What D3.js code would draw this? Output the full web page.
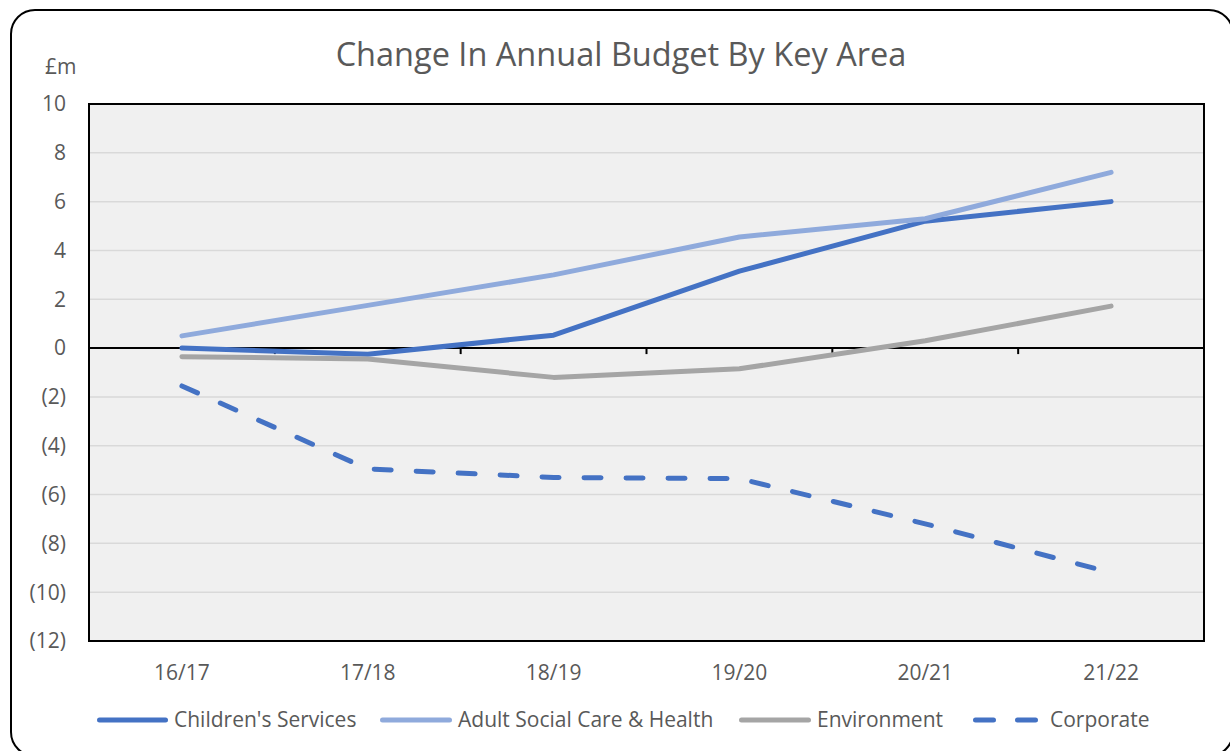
<!DOCTYPE html>
<html>
<head>
<meta charset="utf-8">
<script src="https://cdn.jsdelivr.net/npm/d3@7"></script>
<style>
  html, body { margin: 0; padding: 0; background: #fff; }
  svg { display: block; }
  text { font-family: "Open Sans", "Noto Sans", sans-serif; fill: #595959; }
</style>
</head>
<body>
<svg id="chart" width="1230" height="751"></svg>
<script>
const categories = ["16/17", "17/18", "18/19", "19/20", "20/21", "21/22"];
const childrens = [0.0, -0.25, 0.53, 3.15, 5.2, 6.0];
const adult = [0.5, 1.75, 3.0, 4.55, 5.3, 7.2];
const environment = [-0.35, -0.45, -1.2, -0.85, 0.3, 1.72];
const corporate = [-1.55, -4.95, -5.3, -5.35, -7.2, -9.2];
const yTicks = [10, 8, 6, 4, 2, 0, -2, -4, -6, -8, -10, -12];
const titleText = "Change In Annual Budget By Key Area";
const unitLabel = "£m";

const series = [
  { name: "Children's Services", values: childrens, color: "#4472C4", dash: null },
  { name: "Adult Social Care & Health", values: adult, color: "#8FAADC", dash: null },
  { name: "Environment", values: environment, color: "#A5A5A5", dash: null },
  { name: "Corporate", values: corporate, color: "#4472C4", dash: "17,25" }
];

const svg = d3.select("#chart");
const plot = { left: 89, top: 104, right: 1204, bottom: 641 };

// outer frame
svg.append("rect")
  .attr("x", 11).attr("y", 10).attr("width", 1222).attr("height", 746)
  .attr("rx", 24).attr("ry", 24)
  .attr("fill", "#fff").attr("stroke", "#000").attr("stroke-width", 2);

const x = d3.scaleBand().domain(categories).range([plot.left, plot.right]).padding(0);
const y = d3.scaleLinear().domain([-12, 10]).range([plot.bottom, plot.top]);

// plot background
svg.append("rect")
  .attr("x", plot.left).attr("y", plot.top)
  .attr("width", plot.right - plot.left).attr("height", plot.bottom - plot.top)
  .attr("fill", "#F0F0F0");

// gridlines
svg.append("g").selectAll("line").data(yTicks.filter(d => d !== 0 && d !== 10 && d !== -12)).join("line")
  .attr("x1", plot.left).attr("x2", plot.right)
  .attr("y1", d => y(d)).attr("y2", d => y(d))
  .attr("stroke", "#D9D9D9").attr("stroke-width", 1.5);

// plot border
svg.append("rect")
  .attr("x", plot.left).attr("y", plot.top)
  .attr("width", plot.right - plot.left).attr("height", plot.bottom - plot.top)
  .attr("fill", "none").attr("stroke", "#000").attr("stroke-width", 2);

// y axis labels
const fmt = d => d < 0 ? "(" + Math.abs(d) + ")" : String(d);
svg.append("g").selectAll("text").data(yTicks).join("text")
  .attr("x", 66).attr("y", d => y(d))
  .attr("dy", "0.35em")
  .attr("text-anchor", "end")
  .attr("font-size", 21)
  .text(fmt);

svg.append("text").attr("x", 45).attr("y", 74).attr("font-size", 21).text(unitLabel);

// zero axis with ticks
svg.append("line")
  .attr("x1", plot.left).attr("x2", plot.right)
  .attr("y1", y(0)).attr("y2", y(0))
  .attr("stroke", "#000").attr("stroke-width", 2);
const boundaries = categories.slice(1).map(c => x(c));
svg.append("g").selectAll("line").data(boundaries).join("line")
  .attr("x1", d => d).attr("x2", d => d)
  .attr("y1", y(0)).attr("y2", y(0) + 6)
  .attr("stroke", "#000").attr("stroke-width", 2);

// x labels
svg.append("g").selectAll("text").data(categories).join("text")
  .attr("x", d => x(d) + x.bandwidth() / 2)
  .attr("y", 673)
  .attr("dy", "0.35em")
  .attr("text-anchor", "middle")
  .attr("font-size", 21)
  .text(d => d);

// lines
const line = d3.line()
  .x((d, i) => x(categories[i]) + x.bandwidth() / 2)
  .y(d => y(d));

series.forEach(s => {
  svg.append("path")
    .datum(s.values)
    .attr("d", line)
    .attr("fill", "none")
    .attr("stroke", s.color)
    .attr("stroke-width", 5)
    .attr("stroke-linecap", "round")
    .attr("stroke-linejoin", "round")
    .attr("stroke-dasharray", s.dash);
});

// title
svg.append("text")
  .attr("x", 621).attr("y", 55)
  .attr("dy", "0.35em")
  .attr("text-anchor", "middle")
  .attr("font-size", 32.5)
  .text(titleText);

// legend
const legendItems = [
  { x1: 99.5, x2: 165.5, tx: 174 },
  { x1: 382.5, x2: 449.5, tx: 458 },
  { x1: 741.5, x2: 808.5, tx: 817 },
  { x1: 975.5, x2: 1035.5, tx: 1050 }
];
series.forEach((s, i) => {
  const li = legendItems[i];
  svg.append("line")
    .attr("x1", li.x1).attr("x2", li.x2)
    .attr("y1", 720).attr("y2", 720)
    .attr("stroke", s.color).attr("stroke-width", 5)
    .attr("stroke-linecap", "round")
    .attr("stroke-dasharray", s.dash ? "18,24" : null);
  svg.append("text")
    .attr("x", li.tx).attr("y", 720).attr("dy", "0.35em")
    .attr("font-size", 21)
    .text(s.name);
});
</script>
</body>
</html>
